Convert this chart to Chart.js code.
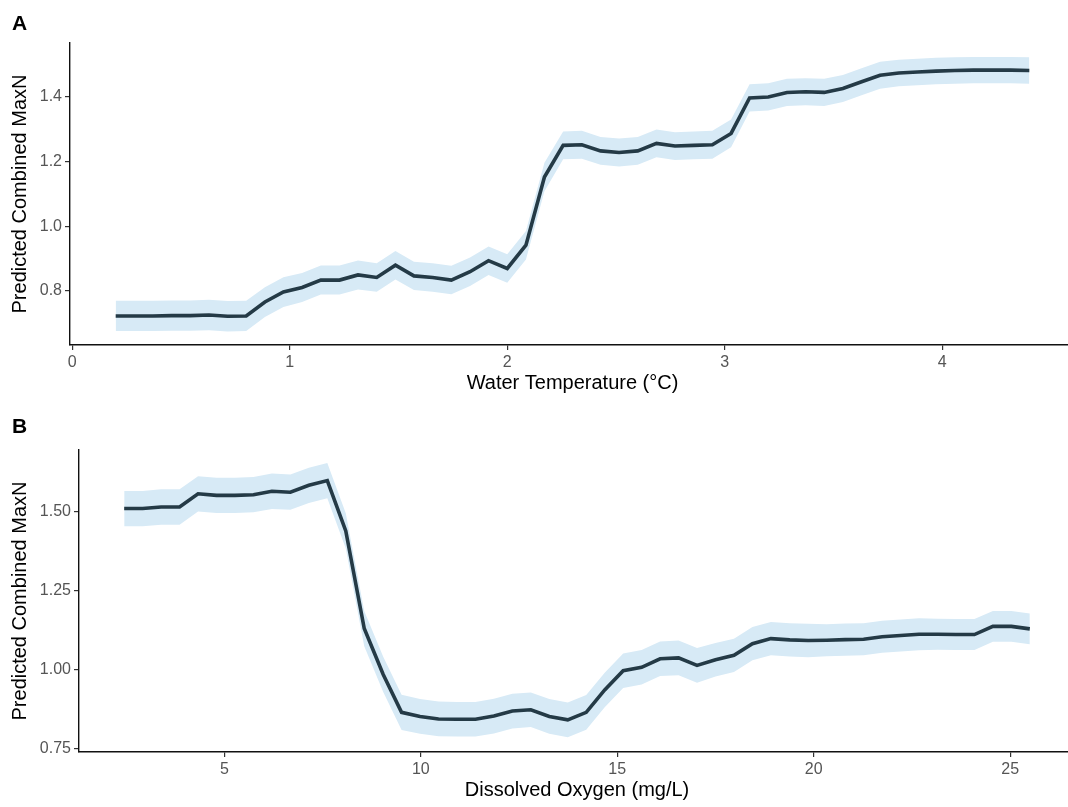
<!DOCTYPE html>
<html lang="en">
<head>
<meta charset="UTF-8">
<title>Predicted Combined MaxN</title>
<script src="https://cdn.jsdelivr.net/npm/chart.js"></script>
<style>
  body {
    margin: 0;
    background: #fff;
    width: 1068px;
    height: 807px;
    overflow: hidden;
    position: relative;
    font-family: "Liberation Sans", Arial, sans-serif;
  }
  .panel { position: absolute; left: 0; width: 1085px; }
  .tag {
    position: absolute;
    left: 12px;
    font-weight: bold;
    font-size: 21px;
    line-height: 21px;
    color: #000;
    z-index: 2;
  }
</style>
</head>
<body>
<div class="panel" style="top:0;height:405px"><canvas id="chartA"></canvas></div>
<div class="panel" style="top:405px;height:402px"><canvas id="chartB"></canvas></div>
<div class="tag" style="top:12px">A</div>
<div class="tag" style="top:415px">B</div>

<script>
// panel A - water temperature
const tempX = [0.20, 0.286, 0.371, 0.457, 0.543, 0.629, 0.714, 0.80, 0.886, 0.971,
  1.057, 1.143, 1.229, 1.314, 1.40, 1.486, 1.571, 1.657, 1.743, 1.829,
  1.914, 2.00, 2.086, 2.171, 2.257, 2.343, 2.429, 2.514, 2.60, 2.686,
  2.771, 2.857, 2.943, 3.029, 3.114, 3.20, 3.286, 3.371, 3.457, 3.543,
  3.629, 3.714, 3.80, 3.886, 3.971, 4.057, 4.143, 4.229, 4.314, 4.40];
const tempFit = [0.722, 0.722, 0.722, 0.723, 0.723, 0.725, 0.721, 0.722, 0.765, 0.796,
  0.810, 0.833, 0.833, 0.849, 0.841, 0.879, 0.846, 0.841, 0.833, 0.859,
  0.893, 0.869, 0.941, 1.152, 1.250, 1.252, 1.233, 1.228, 1.233, 1.256,
  1.248, 1.250, 1.252, 1.287, 1.397, 1.400, 1.414, 1.416, 1.414, 1.426,
  1.447, 1.467, 1.474, 1.477, 1.480, 1.482, 1.483, 1.483, 1.483, 1.482];
const tempSE = [0.047, 0.047, 0.047, 0.047, 0.047, 0.047, 0.047, 0.047, 0.046, 0.046,
  0.045, 0.045, 0.045, 0.045, 0.044, 0.044, 0.044, 0.044, 0.044, 0.044,
  0.044, 0.044, 0.044, 0.044, 0.043, 0.043, 0.043, 0.043, 0.043, 0.043,
  0.043, 0.043, 0.043, 0.043, 0.042, 0.042, 0.042, 0.042, 0.042, 0.042,
  0.042, 0.042, 0.041, 0.041, 0.041, 0.041, 0.041, 0.041, 0.041, 0.041];
const tempXTicks = [0, 1, 2, 3, 4];
const tempYTicks = [0.8, 1.0, 1.2, 1.4];

// panel B - dissolved oxygen
const oxyX = [2.45, 2.92, 3.39, 3.86, 4.33, 4.80, 5.27, 5.74, 6.21, 6.68,
  7.15, 7.62, 8.09, 8.56, 9.04, 9.51, 9.98, 10.45, 10.92, 11.39,
  11.86, 12.33, 12.80, 13.27, 13.74, 14.21, 14.68, 15.15, 15.62, 16.09,
  16.56, 17.03, 17.50, 17.97, 18.44, 18.91, 19.39, 19.86, 20.33, 20.80,
  21.27, 21.74, 22.21, 22.68, 23.15, 23.62, 24.09, 24.56, 25.03, 25.50];
const oxyFit = [1.511, 1.511, 1.516, 1.516, 1.558, 1.553, 1.553, 1.555, 1.566, 1.563,
  1.585, 1.600, 1.440, 1.130, 0.985, 0.864, 0.851, 0.843, 0.842, 0.842,
  0.852, 0.868, 0.872, 0.851, 0.840, 0.864, 0.935, 0.996, 1.007, 1.034,
  1.037, 1.013, 1.031, 1.045, 1.082, 1.098, 1.094, 1.092, 1.093, 1.095,
  1.096, 1.104, 1.108, 1.112, 1.112, 1.111, 1.111, 1.137, 1.137, 1.129];
const oxySE = [0.056, 0.056, 0.056, 0.056, 0.056, 0.056, 0.056, 0.056, 0.056, 0.056,
  0.056, 0.056, 0.056, 0.056, 0.056, 0.056, 0.055, 0.055, 0.055, 0.055,
  0.055, 0.055, 0.055, 0.055, 0.055, 0.055, 0.055, 0.055, 0.055, 0.055,
  0.055, 0.055, 0.053, 0.053, 0.053, 0.053, 0.053, 0.053, 0.051, 0.051,
  0.051, 0.051, 0.051, 0.051, 0.049, 0.049, 0.049, 0.049, 0.049, 0.049];
const oxyXTicks = [5, 10, 15, 20, 25];
const oxyYTicks = [0.75, 1.00, 1.25, 1.50];

const FONT = '"Liberation Sans", Arial, sans-serif';
const LINE = '#243a46';
const BAND = '#d7eaf6';

function pts(xs, ys) {
  return xs.map((x, i) => ({ x: x, y: ys[i] }));
}

function panel(id, p) {
  const upper = p.fit.map((v, i) => v + p.se[i]);
  const lower = p.fit.map((v, i) => v - p.se[i]);
  return new Chart(document.getElementById(id), {
    type: 'line',
    data: {
      datasets: [
        { data: pts(p.xs, p.fit), borderColor: LINE, borderWidth: 3.6, pointRadius: 0, fill: false, order: 0 },
        { data: pts(p.xs, upper), borderWidth: 0, borderColor: 'rgba(0,0,0,0)', backgroundColor: BAND, pointRadius: 0, fill: '+1', order: 1 },
        { data: pts(p.xs, lower), borderWidth: 0, borderColor: 'rgba(0,0,0,0)', pointRadius: 0, fill: false, order: 2 }
      ]
    },
    options: {
      responsive: true,
      maintainAspectRatio: false,
      animation: false,
      events: [],
      layout: { padding: { top: p.top, right: 10, bottom: 5, left: 0 } },
      plugins: { legend: { display: false }, tooltip: { enabled: false } },
      scales: {
        x: {
          type: 'linear',
          min: p.xMin, max: p.xMax,
          afterBuildTicks: s => { s.ticks = p.xTicks.map(v => ({ value: v })); },
          afterFit: s => { s.height = p.xHeight; },
          border: { display: true, color: '#111', width: 1.4 },
          grid: { drawOnChartArea: false, drawTicks: true, tickLength: 5, color: '#333', lineWidth: 1.2 },
          ticks: { color: '#555', font: { family: FONT, size: 16 }, padding: 3, maxRotation: 0, callback: v => String(v) },
          title: { display: true, text: p.xTitle, color: '#000', font: { family: FONT, size: 20, lineHeight: 1 }, padding: { top: 0, bottom: p.titlePad } }
        },
        y: {
          min: p.yMin, max: p.yMax,
          afterBuildTicks: s => { s.ticks = p.yTicks.map(v => ({ value: v })); },
          afterFit: s => { s.width = p.yWidth; },
          border: { display: true, color: '#111', width: 1.4 },
          grid: { drawOnChartArea: false, drawTicks: true, tickLength: 5, color: '#333', lineWidth: 1.2 },
          ticks: { color: '#555', font: { family: FONT, size: 16 }, padding: 3, callback: v => v.toFixed(p.digits) },
          title: { display: true, text: 'Predicted Combined MaxN', color: '#000', font: { family: FONT, size: 20, lineHeight: 1 }, padding: { top: 10, bottom: 0 } }
        }
      }
    }
  });
}

panel('chartA', {
  xs: tempX, fit: tempFit, se: tempSE,
  xTicks: tempXTicks, yTicks: tempYTicks,
  xMin: -0.01, xMax: 4.61, yMin: 0.632, yMax: 1.567,
  xTitle: 'Water Temperature (°C)', digits: 1,
  top: 43, xHeight: 55, yWidth: 70, titlePad: 7
});

panel('chartB', {
  xs: oxyX, fit: oxyFit, se: oxySE,
  xTicks: oxyXTicks, yTicks: oxyYTicks,
  xMin: 1.30, xMax: 26.65, yMin: 0.738, yMax: 1.697,
  xTitle: 'Dissolved Oxygen (mg/L)', digits: 2,
  top: 45, xHeight: 50, yWidth: 79, titlePad: 2
});
</script>
</body>
</html>
